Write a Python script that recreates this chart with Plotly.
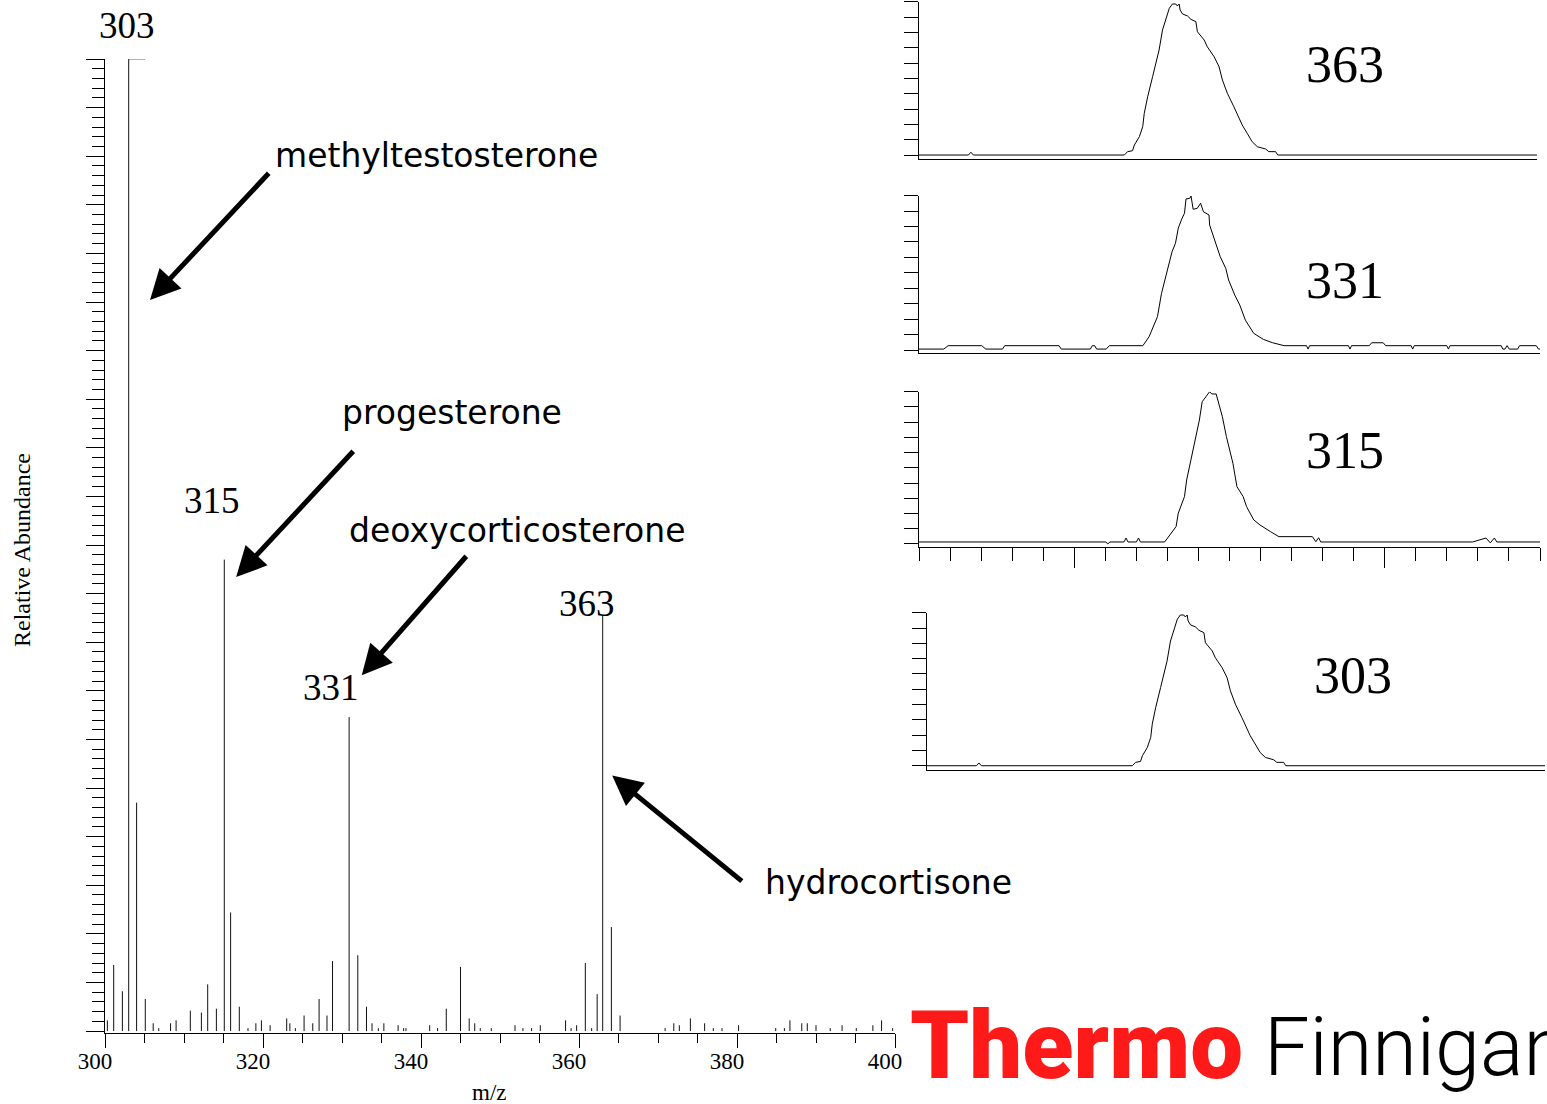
import plotly.graph_objects as go

W, H = 1547, 1104

# ---------------- mass spectrum data ----------------
mz = [300.3, 301.1, 302.2, 303.0, 304.0, 305.1, 306.1, 306.8, 308.3, 309.0,
      310.8, 312.2, 313.0, 314.1, 315.1, 315.9, 317.0, 318.1, 319.1, 319.8,
      320.9, 323.0, 323.4, 324.1, 325.2, 326.3, 327.1, 328.1, 328.8, 330.9,
      332.0, 333.1, 333.8, 334.6, 335.3, 337.1, 337.8, 338.1, 341.1, 342.1,
      343.2, 345.0, 346.1, 346.8, 347.5, 348.9, 351.9, 352.9, 354.0, 355.1,
      358.3, 359.0, 359.7, 360.8, 361.6, 362.3, 363.0, 364.1, 365.2, 370.9,
      372.0, 372.7, 374.1, 375.9, 377.0, 378.1, 380.2, 384.9, 386.0, 386.7,
      388.2, 388.9, 390.0, 391.8, 393.3, 395.1, 397.2, 398.3, 399.7]
abundance = [1.1, 6.8, 4.1, 100, 23.5, 3.3, 0.8, 0.3, 0.8, 1.1,
             2.1, 1.9, 4.8, 2.3, 48.5, 12.2, 2.5, 0.3, 0.8, 1.1,
             0.6, 1.3, 0.8, 0.3, 1.6, 0.8, 3.3, 1.6, 7.2, 32.3,
             7.8, 2.5, 0.8, 0.3, 0.8, 0.6, 0.3, 0.3, 0.6, 0.3,
             2.3, 6.6, 1.3, 0.8, 0.3, 0.3, 0.6, 0.3, 0.3, 0.6,
             1.1, 0.3, 0.6, 7.0, 0.3, 3.8, 42.8, 10.7, 1.6, 0.3,
             0.8, 0.6, 1.3, 0.8, 0.3, 0.3, 0.6, 0.3, 0.3, 1.1,
             0.8, 0.8, 0.6, 0.3, 0.6, 0.3, 0.6, 1.1, 0.3]

peak_labels = ["303", "315", "331", "363"]
peak_label_x = [302.8, 313.5, 328.6, 361.0]
peak_label_y = [103.4, 54.6, 35.3, 44.0]

compounds = ["methyltestosterone", "progesterone", "deoxycorticosterone", "hydrocortisone"]
compound_x = [321.3, 329.7, 330.6, 383.3]
compound_y = [90.1, 63.6, 51.5, 15.3]
arrow_tail_x = [320.9, 331.6, 345.9, 380.8]
arrow_tail_y = [88.4, 59.8, 49.0, 15.3]
arrow_tip_x = [305.7, 316.6, 332.5, 364.2]
arrow_tip_y = [75.2, 46.7, 36.6, 26.3]

# ---------------- chromatogram data (time, relative intensity) ----------------
rt_363 = [0.5, 0.66, 0.668, 0.676, 1.1645, 1.175, 1.191, 1.197, 1.213, 1.224,
          1.229, 1.24, 1.256, 1.267, 1.277, 1.288, 1.299, 1.31, 1.32, 1.331,
          1.336, 1.342, 1.345, 1.353, 1.369, 1.38, 1.396, 1.401, 1.423, 1.433,
          1.455, 1.471, 1.482, 1.498, 1.519, 1.535, 1.546, 1.562, 1.578, 1.595,
          1.622, 1.632, 1.654, 1.661, 2.5]
ab_363 = [0, 0, 1.8, 0, 0, 2.2, 2.8, 6.5, 11.9, 18.5,
          27.2, 38, 51.1, 60.9, 68.5, 81.5, 89.2, 95.7, 98.5, 98.5,
          97.2, 98.5, 94.6, 92, 90.7, 88.5, 87, 80.4, 75, 70.6,
          64.1, 57.6, 48.9, 40.2, 31.5, 23.9, 19.6, 14.2, 8.7, 5.4,
          3.9, 2.2, 2.2, 0, 0]

rt_331 = [0.5, 0.58, 0.594, 0.702, 0.715, 0.769, 0.776, 0.951, 0.958, 1.052,
          1.058, 1.066, 1.072, 1.103, 1.113, 1.221, 1.241, 1.254, 1.268, 1.281,
          1.299, 1.315, 1.326, 1.335, 1.345, 1.355, 1.36, 1.372, 1.376, 1.383,
          1.396, 1.407, 1.416, 1.434, 1.436, 1.453, 1.47, 1.488, 1.497, 1.517,
          1.533, 1.551, 1.578, 1.609, 1.639, 1.676, 1.748, 1.753, 1.758, 1.883,
          1.888, 1.893, 1.95, 1.958, 1.995, 2.003, 2.085, 2.09, 2.095, 2.2,
          2.205, 2.21, 2.375, 2.38, 2.387, 2.394, 2.401, 2.407, 2.428, 2.434,
          2.488, 2.495, 2.5]
ab_331 = [0.6, 0.6, 2.8, 2.8, 0.6, 0.6, 2.8, 2.8, 0.6, 0.6,
          2.8, 2.8, 0.6, 0.6, 2.8, 2.8, 8.6, 15.1, 21.6, 36.7,
          51.8, 63.7, 69.2, 78.9, 84.3, 88.6, 97.9, 98.3, 99.8, 91.2,
          91.8, 95.1, 89.6, 87.5, 81, 70.2, 60.5, 52.9, 45.4, 35.6,
          29.2, 19.4, 10.8, 6.9, 4.7, 2.8, 2.8, 0.6, 2.8, 2.8,
          0.6, 2.8, 2.8, 4.7, 4.7, 2.8, 2.8, 0.6, 2.8, 2.8,
          0.6, 2.8, 2.8, 0.6, 0.6, 2.8, 0.6, 0.6, 0.6, 2.8,
          2.8, 0.6, 0.6]

rt_315 = [0.5, 1.102, 1.108, 1.115, 1.16, 1.167, 1.173, 1.2, 1.207, 1.213,
          1.291, 1.308, 1.328, 1.335, 1.355, 1.362, 1.378, 1.389, 1.403, 1.412,
          1.423, 1.436, 1.443, 1.457, 1.477, 1.49, 1.511, 1.524, 1.544, 1.555,
          1.578, 1.598, 1.632, 1.659, 1.767, 1.778, 1.787, 1.794, 2.283, 2.326,
          2.34, 2.353, 2.361, 2.5]
ab_315 = [1.3, 1.3, 0, 1.3, 1.3, 3.9, 1.3, 1.3, 3.9, 1.3,
          1.3, 5.9, 11.4, 20.2, 31.1, 42, 57.3, 68.3, 81.4, 93.4,
          96.7, 100, 98.5, 98.5, 83.6, 70.5, 53, 37.6, 31.1, 24.5,
          15.8, 12.5, 8.1, 4.8, 4.8, 1.5, 4.1, 1.3, 1.3, 3.9,
          0.7, 3.9, 1.3, 1.3]

rt_303 = [0.5, 0.66, 0.668, 0.676, 1.1645, 1.175, 1.191, 1.197, 1.213, 1.224,
          1.229, 1.24, 1.256, 1.267, 1.277, 1.288, 1.299, 1.31, 1.32, 1.331,
          1.336, 1.342, 1.345, 1.353, 1.369, 1.38, 1.396, 1.401, 1.423, 1.433,
          1.455, 1.471, 1.482, 1.498, 1.519, 1.535, 1.546, 1.562, 1.578, 1.595,
          1.622, 1.632, 1.654, 1.661, 2.5]
ab_303 = [0, 0, 1.8, 0, 0, 2.2, 2.8, 6.5, 11.9, 18.5,
          27.2, 38, 51.1, 60.9, 68.5, 81.5, 89.2, 95.7, 98.5, 98.5,
          97.2, 98.5, 94.6, 92, 90.7, 88.5, 87, 80.4, 75, 70.6,
          64.1, 57.6, 48.9, 40.2, 31.5, 23.9, 19.6, 14.2, 8.7, 5.4,
          3.9, 2.2, 2.2, 0, 0]

chrom_labels = ["363", "331", "315", "303"]

# ---------------- layout helpers (pixel -> paper) ----------------
def pxx(p):
    return p / W


def pxy(p):
    return (H - p) / H


SERIF = "Liberation Serif, Times New Roman, serif"
SANS = "DejaVu Sans, Verdana, sans-serif"

fig = go.Figure()

# stick spectrum
sx, sy = [], []
for m, a in zip(mz, abundance):
    sx += [m, m, None]
    sy += [0, a, None]
fig.add_trace(go.Scatter(x=sx, y=sy, mode="lines", line=dict(color="#111111", width=1),
                         xaxis="x", yaxis="y", hoverinfo="skip", showlegend=False))

# chromatograms
chrom = [(rt_363, ab_363), (rt_331, ab_331), (rt_315, ab_315), (rt_303, ab_303)]
for k, (t, a) in enumerate(chrom):
    n = k + 2
    fig.add_trace(go.Scatter(x=t, y=a, mode="lines", line=dict(color="black", width=1),
                             xaxis=f"x{n}", yaxis=f"y{n}", hoverinfo="skip", showlegend=False))

layout = dict(
    width=W, height=H,
    margin=dict(l=0, r=0, t=0, b=0, autoexpand=False),
    paper_bgcolor="white", plot_bgcolor="white",
    showlegend=False,
    xaxis=dict(domain=[pxx(105), pxx(895)], range=[300, 400], anchor="y", automargin=False,
               showline=True, linecolor="black", linewidth=1,
               ticks="outside", tickcolor="black", ticklen=14, tickwidth=1,
               tick0=300, dtick=20, showgrid=False, zeroline=False,
               minor=dict(dtick=5, ticklen=9, tickcolor="black", ticks="outside", showgrid=False),
               tickfont=dict(family=SERIF, size=23, color="black"),
               ticklabelshift=-10, ticklabelstandoff=-7),
    yaxis=dict(domain=[pxy(1033), pxy(59)], range=[-0.2, 100], anchor="x", automargin=False,
               showline=True, linecolor="black", linewidth=1,
               ticks="outside", tickcolor="black", ticklen=18, tickwidth=1,
               tick0=0, dtick=5, showticklabels=False, showgrid=False, zeroline=False,
               minor=dict(dtick=1, ticklen=12, tickcolor="black", ticks="outside", showgrid=False)),
)

# chromatogram panel geometry (pixels): x start, x end, y top (100%), y axis line, y min
panels = [
    (919, 1537, 1.7, 158.7, -2.4),
    (919, 1540, 195.7, 352.7, -1.75),
    (919, 1540, 391.7, 546.7, -1.8),
    (927, 1545, 612.7, 770.0, -2.8),
]
for k, (x0, x1, ytop, ybot, ymin) in enumerate(panels):
    n = k + 2
    xa = dict(domain=[pxx(x0), pxx(x1)], range=[0.5, 2.5], anchor=f"y{n}", automargin=False,
              showline=True, linecolor="black", linewidth=1, showgrid=False, zeroline=False,
              showticklabels=False, ticks="")
    if n == 4:
        xa.update(ticks="outside", ticklen=20, tickcolor="black", tick0=0, dtick=1,
                  minor=dict(dtick=0.1, ticklen=13, tickcolor="black", ticks="outside", showgrid=False))
    ya = dict(domain=[pxy(ybot), pxy(ytop)], range=[ymin, 100], anchor=f"x{n}", automargin=False,
              showline=True, linecolor="black", linewidth=1, showgrid=False, zeroline=False,
              showticklabels=False, ticks="outside", ticklen=14, tickcolor="black",
              tick0=0, dtick=10)
    layout[f"xaxis{n}"] = xa
    layout[f"yaxis{n}"] = ya

fig.update_layout(**layout)

ann = []
# peak labels on spectrum (vertical position in paper units so the top label is not hidden)
y0_px, y100_px = 1031.0, 59.0
for s, x, y in zip(peak_labels, peak_label_x, peak_label_y):
    ypix = y0_px - y * (y0_px - y100_px) / 100.0
    ann.append(dict(text=s, x=x, y=pxy(ypix), xref="x", yref="paper", showarrow=False,
                    xanchor="center", yanchor="middle",
                    font=dict(family=SERIF, size=37, color="black")))
# compound names
for s, x, y in zip(compounds, compound_x, compound_y):
    ann.append(dict(text=s, x=x, y=y, xref="x", yref="y", showarrow=False,
                    xanchor="left", yanchor="middle",
                    font=dict(family=SANS, size=33, color="black")))
# arrows
for tx, ty, hx, hy in zip(arrow_tail_x, arrow_tail_y, arrow_tip_x, arrow_tip_y):
    ann.append(dict(text="", x=hx, y=hy, ax=tx, ay=ty, xref="x", yref="y",
                    axref="x", ayref="y", showarrow=True, arrowhead=2, arrowsize=1.2,
                    arrowwidth=5, arrowcolor="black", standoff=0))
# chromatogram labels
chrom_label_px = [(1345, 65), (1345, 281), (1345, 450), (1353, 675)]
for s, (x, y) in zip(chrom_labels, chrom_label_px):
    ann.append(dict(text=s, x=pxx(x), y=pxy(y), xref="paper", yref="paper", showarrow=False,
                    xanchor="center", yanchor="middle",
                    font=dict(family=SERIF, size=52, color="black")))
# axis titles
ann.append(dict(text="Relative Abundance", x=pxx(22), y=pxy(550), xref="paper", yref="paper",
                showarrow=False, textangle=-90, xanchor="center", yanchor="middle",
                font=dict(family=SERIF, size=24, color="black")))
ann.append(dict(text="m/z", x=pxx(489), y=pxy(1092), xref="paper", yref="paper",
                showarrow=False, xanchor="center", yanchor="middle",
                font=dict(family=SERIF, size=23, color="black")))
# logo (the original slide crops the last letter at the right edge)
ann.append(dict(text="Thermo", x=pxx(908), y=pxy(1046), xref="paper", yref="paper",
                showarrow=False, xanchor="left", yanchor="middle",
                font=dict(family="Roboto, Liberation Sans, Arial, sans-serif", size=94,
                          color="#FF1A1A", weight=900)))
ann.append(dict(text="Finnigan", x=pxx(1262), y=pxy(1047), xref="paper", yref="paper",
                showarrow=False, xanchor="left", yanchor="middle",
                font=dict(family="Roboto, sans-serif", size=81,
                          color="black", weight=300)))

fig.update_layout(annotations=ann)

# small leader stub at top of the base peak
base_i = abundance.index(max(abundance))
fig.add_shape(type="line", xref="x", yref="y", x0=mz[base_i], x1=mz[base_i] + 2.1,
              y0=abundance[base_i], y1=abundance[base_i], line=dict(color="#666666", width=1))

fig.write_html("out.html")
